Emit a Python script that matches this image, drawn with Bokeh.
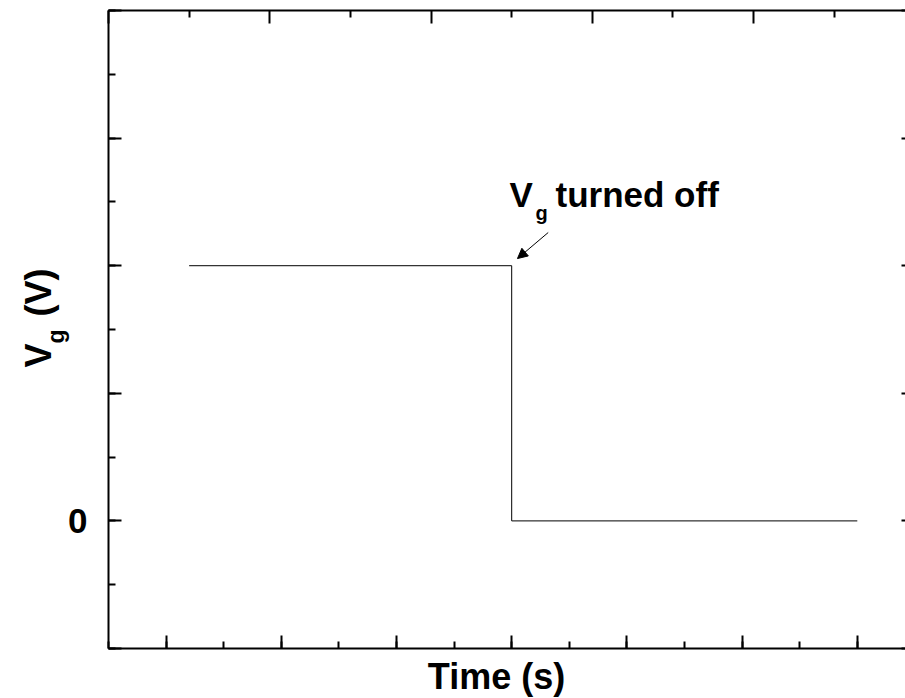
import math
from bokeh.plotting import figure
from bokeh.models import (Range1d, LinearAxis, SingleIntervalTicker, FixedTicker, Label, Arrow, NormalHead)
from bokeh.embed import file_html
from bokeh.resources import INLINE

# ---- data ----
time_s = [0.2, 3.0, 3.0, 6.0]
vg_volts = [2.0, 2.0, 0.0, 0.0]
y_tick_labels = {0: "0"}
x_label = "Time (s)"
y_label_main = "V"
y_label_sub = "g"
y_label_unit = "(V)"
note_main = "V"
note_sub = "g"
note_rest = "turned off"
arrow_from = (3.317, 2.26)
arrow_to = (3.05, 2.056)
# top axis has its own (coarser) tick spacing
top_major_ticks = [-0.5, 0.9, 2.3, 3.7, 5.1, 6.5]
top_minor_ticks = [0.2, 1.6, 3.0, 4.4, 5.8]

FONT = "Liberation Sans"

# axis extents (data units)
X_MIN, X_MAX = -0.5, 6.5
Y_MIN, Y_MAX = -1.0, 4.0

# frame covers the whole canvas; axes are pinned with fixed_location
p = figure(width=905, height=698, output_backend="svg", toolbar_location=None,
           x_range=Range1d(-1.4375, 6.4184), y_range=Range1d(-1.3918, 4.0784),
           x_axis_location=None, y_axis_location=None,
           min_border_left=0, min_border_right=0, min_border_top=0, min_border_bottom=0)
p.outline_line_color = None
p.xgrid.visible = False
p.ygrid.visible = False
p.background_fill_color = "white"
p.border_fill_color = "white"


def style_axis(ax):
    ax.axis_line_width = 2
    ax.axis_line_color = "black"
    ax.major_tick_in = 13
    ax.major_tick_out = 0
    ax.minor_tick_in = 7
    ax.minor_tick_out = 0
    ax.major_tick_line_width = 2
    ax.minor_tick_line_width = 2
    ax.major_tick_line_color = "black"
    ax.minor_tick_line_color = "black"


def hide_labels(ax):
    ax.major_label_text_font_size = "0px"
    ax.major_label_text_color = None
    ax.major_label_standoff = 0


top = LinearAxis(ticker=FixedTicker(ticks=top_major_ticks, minor_ticks=top_minor_ticks),
                 fixed_location=Y_MAX, bounds=(X_MIN, X_MAX))
style_axis(top)
hide_labels(top)
p.add_layout(top, "above")

bottom = LinearAxis(ticker=SingleIntervalTicker(interval=1, num_minor_ticks=2),
                    fixed_location=Y_MIN, bounds=(X_MIN, X_MAX))
style_axis(bottom)
hide_labels(bottom)
p.add_layout(bottom, "below")

left = LinearAxis(ticker=SingleIntervalTicker(interval=1, num_minor_ticks=2),
                  fixed_location=X_MIN, bounds=(Y_MIN, Y_MAX))
style_axis(left)
left.major_label_overrides = {k: "" for k in [-1, 1, 2, 3, 4]}
left.major_label_overrides.update(y_tick_labels)
left.major_label_text_font = FONT
left.major_label_text_font_style = "bold"
left.major_label_text_font_size = "35px"
left.major_label_text_color = "black"
left.major_label_standoff = 21
p.add_layout(left, "left")

right = LinearAxis(ticker=SingleIntervalTicker(interval=1, num_minor_ticks=2),
                   fixed_location=X_MAX, bounds=(Y_MIN, Y_MAX))
style_axis(right)
hide_labels(right)
p.add_layout(right, "right")

p.line(time_s, vg_volts, line_color="black", line_width=1)


def lab(x, y, text, size, angle=0.0, align="left"):
    l = Label(x=x, y=y, x_units="screen", y_units="screen", text=text,
              text_font=FONT, text_font_style="bold",
              text_font_size=size, text_color="black", angle=angle,
              text_align=align, text_baseline="alphabetic")
    p.add_layout(l)
    return l


# x axis label (screen px from canvas bottom-left)
lab(496, 22, x_label, "36px", align="center")

# y axis label (rotated, with subscript) - kept fully inside the canvas
lab(38, 331, y_label_main, "36px", math.pi / 2)
lab(55, 355, y_label_sub, "23px", math.pi / 2)
lab(38, 382, y_label_unit, "36px", math.pi / 2)

# annotation
lab(509, 504, note_main, "35px")
lab(535, 486, note_sub, "20px")
lab(555, 504, note_rest, "35px")

p.add_layout(Arrow(end=NormalHead(size=10, fill_color="black", line_color="black", line_width=1),
                   x_start=arrow_from[0], y_start=arrow_from[1],
                   x_end=arrow_to[0], y_end=arrow_to[1],
                   line_color="black", line_width=1))

open("out.html", "w").write(file_html(p, INLINE))
